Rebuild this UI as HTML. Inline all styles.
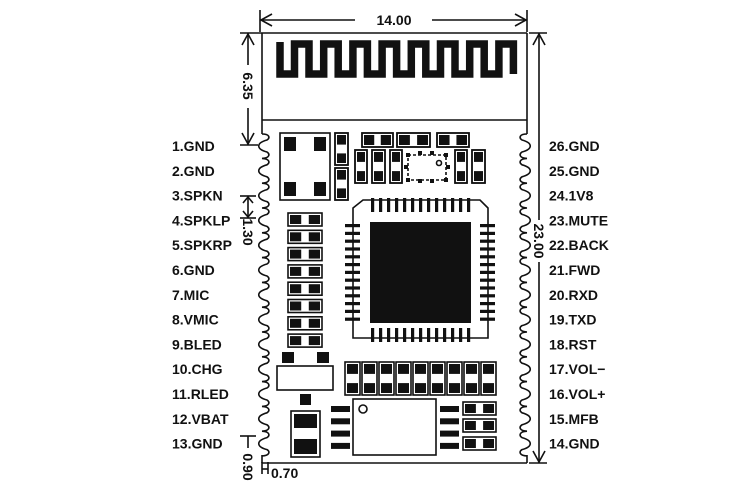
<!DOCTYPE html><html><head><meta charset="utf-8"><style>
html,body{margin:0;padding:0;background:#fff;}
svg{display:block}
text{font-family:"Liberation Sans",sans-serif;font-weight:bold;fill:#111}
</style></head><body>
<svg id="s" width="750" height="500" viewBox="0 0 750 500" xmlns="http://www.w3.org/2000/svg">
<g stroke="#111" fill="none" stroke-width="1.6">
<line x1="262" y1="33" x2="527" y2="33"/>
<line x1="262" y1="120" x2="527" y2="120"/>
<line x1="262" y1="33" x2="262" y2="134"/>
<line x1="527" y1="33" x2="527" y2="134"/>
<line x1="262" y1="463" x2="527" y2="463"/>
<line x1="262" y1="455" x2="262" y2="463"/>
<line x1="527" y1="455" x2="527" y2="463"/>
<path id="lw" d=""/>
<path id="rw" d=""/>
<path id="ant" stroke-width="7.5" stroke-linejoin="miter" d=""/>
<line x1="260" y1="20" x2="355" y2="20"/><line x1="432" y1="20" x2="527" y2="20"/>
<path d="M272,14 L261,20 L272,26 M515,14 L526,20 L515,26"/>
<line x1="260" y1="10" x2="260" y2="32"/><line x1="527" y1="10" x2="527" y2="32"/>
<line x1="248" y1="33" x2="248" y2="65"/><line x1="248" y1="108" x2="248" y2="145"/>
<path d="M242,45 L248,34 L254,45 M242,133 L248,144 L254,133"/>
<line x1="240" y1="33" x2="262" y2="33"/><line x1="240" y1="145" x2="258" y2="145"/>
<line x1="240" y1="196" x2="256" y2="196"/><line x1="240" y1="218" x2="256" y2="218"/>
<line x1="248" y1="196" x2="248" y2="218"/>
<path d="M243,203 L248,197 L253,203 M243,211 L248,217 L253,211"/>
<line x1="240" y1="436" x2="256" y2="436"/><line x1="248" y1="436" x2="248" y2="448"/>
<line x1="262" y1="462" x2="262" y2="474"/><line x1="268" y1="462" x2="268" y2="474"/><line x1="262" y1="469" x2="268" y2="469"/>
<line x1="539" y1="33" x2="539" y2="220"/><line x1="539" y1="262" x2="539" y2="463"/>
<path d="M533,45 L539,34 L545,45 M533,451 L539,462 L545,451"/>
<line x1="529" y1="33" x2="547" y2="33"/><line x1="529" y1="463" x2="547" y2="463"/>
<rect x="280" y="133" width="50" height="67"/>
<rect x="335" y="133" width="13" height="32"/><rect x="335" y="168" width="13" height="32"/>
<rect x="362" y="133" width="31" height="14"/><rect x="397" y="133" width="33" height="14"/><rect x="437" y="133" width="32" height="14"/>
<rect x="355" y="150" width="12" height="33"/><rect x="372" y="150" width="13" height="33"/><rect x="390" y="150" width="12" height="33"/>
<rect x="455" y="150" width="12" height="33"/><rect x="472" y="150" width="13" height="33"/>
<rect x="408" y="155" width="38" height="25" stroke-dasharray="3,2"/>
<circle cx="439" cy="163" r="2.5"/>
<path d="M363,200 H480 L488,208 V338 H353 V208 Z"/>
<rect x="277" y="366" width="56" height="24"/>
<rect x="353" y="399" width="83" height="56"/>
<circle cx="363" cy="409" r="4"/>
<rect x="291" y="411" width="29" height="46"/>
</g>
<g id="fills" fill="#111"></g>
<g id="txt" font-size="14"></g>
<text x="394" y="25" font-size="14" text-anchor="middle" font-weight="normal">14.00</text>
<text transform="translate(243,86) rotate(90)" font-size="14" text-anchor="middle">6.35</text>
<text transform="translate(243,232) rotate(90)" font-size="14" text-anchor="middle">1.30</text>
<text transform="translate(243,467) rotate(90)" font-size="14" text-anchor="middle">0.90</text>
<text x="271" y="478" font-size="14">0.70</text>
<text transform="translate(534,241) rotate(90)" font-size="14" text-anchor="middle">23.00</text>
</svg>
<script>
const NS="http://www.w3.org/2000/svg";
function el(p,t,a){const e=document.createElementNS(NS,t);for(const k in a)e.setAttribute(k,a[k]);p.appendChild(e);return e;}
const F=document.getElementById('fills'),S=document.querySelector('svg g');
let l="M262,134",r="M527,134";
for(let i=0;i<13;i++){const y=146+i*24.8;
 l+=` C270,${y-12} 270,${y-8} 267,${y-6} C256,${y-3} 256,${y+3} 267,${y+6} C270,${y+8} 270,${y+12} 262,${y+12.4}`;
 r+=` C519,${y-12} 519,${y-8} 522,${y-6} C533,${y-3} 533,${y+3} 522,${y+6} C519,${y+8} 519,${y+12} 527,${y+12.4}`;}
document.getElementById('lw').setAttribute('d',l);document.getElementById('rw').setAttribute('d',r);
let a="M280,42 V74",x=280;
for(let i=0;i<8;i++){a+=` H${x+14.5} V44 H${x+29} V74`;x+=29.2;}
document.getElementById('ant').setAttribute('d',a);
[[284,137],[314,137],[284,182],[314,182]].forEach(p=>el(F,'rect',{x:p[0],y:p[1],width:12,height:14}));
function hpart(x,y,w,h){el(S,'rect',{x,y,width:w,height:h});el(F,'rect',{x:x+2,y:y+2,width:w*0.33,height:h-4});el(F,'rect',{x:x+w-2-w*0.33,y:y+2,width:w*0.33,height:h-4});}
function vpart(x,y,w,h){el(S,'rect',{x,y,width:w,height:h});el(F,'rect',{x:x+2,y:y+2,width:w-4,height:h*0.3});el(F,'rect',{x:x+2,y:y+h-2-h*0.3,width:w-4,height:h*0.3});}
vpart(335,133,13,32);vpart(335,168,13,32);
hpart(362,133,31,14);hpart(397,133,33,14);hpart(437,133,32,14);
[[355,12],[372,13],[390,12],[455,12],[472,13]].forEach(p=>vpart(p[0],150,p[1],33));
for(let i=0;i<8;i++)hpart(288,213+i*17.3,34,13);
for(let i=0;i<9;i++)vpart(345+i*17,362,15,33);
hpart(463,402,33,13);hpart(463,419,33,13);hpart(463,437,33,13);
[[408,155],[420,153],[432,153],[446,155],[408,180],[420,181],[432,181],[446,180],[406,167],[448,167]].forEach(p=>el(F,'rect',{x:p[0]-2,y:p[1]-2,width:4,height:4}));
el(F,'rect',{x:370,y:222,width:101,height:101});
for(let i=0;i<13;i++){const t=371+i*8;el(F,'rect',{x:t,y:198,width:3.2,height:14});el(F,'rect',{x:t,y:328,width:3.2,height:14});
 const u=224+i*7.8;el(F,'rect',{x:345,y:u,width:15,height:3.2});el(F,'rect',{x:480,y:u,width:15,height:3.2});}
el(F,'rect',{x:282,y:352,width:12,height:11});el(F,'rect',{x:317,y:352,width:12,height:11});
el(F,'rect',{x:300,y:394,width:11,height:11});
el(F,'rect',{x:294,y:414,width:23,height:14});el(F,'rect',{x:294,y:439,width:23,height:15});
for(let i=0;i<4;i++){const y=406+i*12.3;el(F,'rect',{x:331,y,width:19,height:6});el(F,'rect',{x:440,y,width:19,height:6});}
const T=document.getElementById('txt');
const L=["1.GND","2.GND","3.SPKN","4.SPKLP","5.SPKRP","6.GND","7.MIC","8.VMIC","9.BLED","10.CHG","11.RLED","12.VBAT","13.GND"];
const R=["26.GND","25.GND","24.1V8","23.MUTE","22.BACK","21.FWD","20.RXD","19.TXD","18.RST","17.VOL−","16.VOL+","15.MFB","14.GND"];
for(let i=0;i<13;i++){const y=151+i*24.8;el(T,'text',{x:172,y}).textContent=L[i];el(T,'text',{x:549,y}).textContent=R[i];}
</script>
</body></html>
